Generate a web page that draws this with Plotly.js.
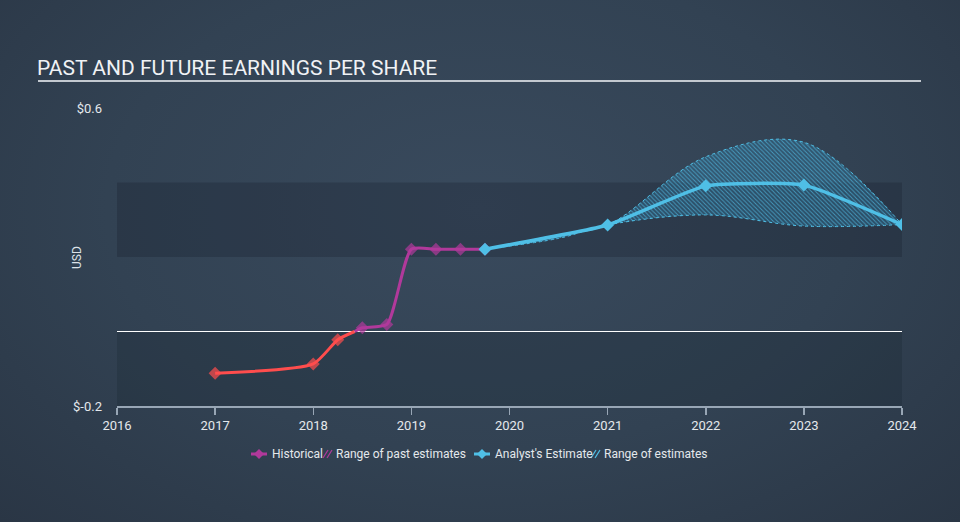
<!DOCTYPE html>
<html>
<head>
<meta charset="utf-8">
<script src="https://cdn.plot.ly/plotly-3.0.1.min.js"></script>
<style>
  html, body { margin: 0; padding: 0; }
  body { width: 960px; height: 522px; overflow: hidden;
         background: radial-gradient(ellipse at 50% 40%, #394a5d 0%, #324253 55%, #2a3645 100%); }
  #chart { width: 960px; height: 522px; }
</style>
</head>
<body>
<div id="chart"></div>
<script>
// ---- data ----
const histNegX = [2017.0, 2018.0, 2018.25];
const histNegY = [-0.112, -0.087, -0.022];
const histPosX = [2018.5, 2018.75, 2019.0, 2019.25, 2019.5, 2019.75];
const histPosY = [0.010, 0.019, 0.221, 0.221, 0.221, 0.221];

const estX = [2019.75, 2021.0, 2022.0, 2023.0, 2024.0];
const estY = [0.221, 0.286, 0.391, 0.393, 0.287];

const rangeX     = [2019.75, 2020.5, 2021.0, 2022.0, 2023.0, 2024.0];
const rangeLow   = [0.221, 0.250, 0.286, 0.313, 0.283, 0.287];
const rangeHigh  = [0.221, 0.260, 0.286, 0.469, 0.508, 0.287];

const xTicks = [2016, 2017, 2018, 2019, 2020, 2021, 2022, 2023, 2024];
const yTickVals = [-0.2, 0.6];
const yTickText = ['$-0.2', '$0.6'];

const legendLabels = ['Historical', 'Range of past estimates', "Analyst's Estimate", 'Range of estimates'];

// ---- colours ----
const RED = '#ff4d4d', PURPLE = '#b1399b', BLUE = '#4fbfe6';

// zero crossing of the historical line, used only to switch colour
const i0 = histNegX.length - 1;
const t = -histNegY[i0] / (histPosY[0] - histNegY[i0]);
const crossX = histNegX[i0] + t * (histPosX[0] - histNegX[i0]);

const redX = histNegX.concat([crossX]);
const redY = histNegY.concat([0]);
const purX = [crossX].concat(histPosX);
const purY = [0].concat(histPosY);

const MS = 10;
const noLine = { width: 0 };
const traces = [
  { x: rangeX, y: rangeLow, type: 'scatter', mode: 'lines', showlegend: false, hoverinfo: 'skip',
    line: { color: BLUE, width: 1, dash: 'dot', shape: 'spline', smoothing: 1 } },
  { x: rangeX, y: rangeHigh, type: 'scatter', mode: 'lines', showlegend: false,
    fill: 'tonexty', fillcolor: 'rgba(60,160,205,0.30)',
    fillpattern: { shape: '\\', fgcolor: 'rgba(80,185,225,0.7)', bgcolor: 'rgba(45,120,160,0.35)', size: 3, solidity: 0.3 },
    line: { color: BLUE, width: 1, dash: 'dot', shape: 'spline', smoothing: 1 } },
  { x: redX, y: redY, type: 'scatter', mode: 'lines+markers', showlegend: false,
    line: { color: RED, width: 3, shape: 'spline', smoothing: 0.6 },
    marker: { symbol: 'diamond', color: RED, line: noLine, size: redX.map((v, i) => i < histNegX.length ? MS : 0) } },
  { x: purX, y: purY, type: 'scatter', mode: 'lines+markers', showlegend: false,
    line: { color: PURPLE, width: 3, shape: 'spline', smoothing: 0.6 },
    marker: { symbol: 'diamond', color: PURPLE, line: noLine, size: purX.map((v, i) => i > 0 ? MS : 0) } },
  { x: estX, y: estY, type: 'scatter', mode: 'lines+markers', showlegend: false,
    line: { color: BLUE, width: 3.5, shape: 'spline', smoothing: 0.45 },
    marker: { symbol: 'diamond', color: BLUE, line: noLine, size: MS } }
];

// pixel -> paper helpers for the custom legend / decorations
const PL = 117, PW = 785, PB = 406, PH = 298;
const px = v => (v - PL) / PW;
const py = v => (PB - v) / PH;

const LY = 454;
function lineIcon(cx, color) {
  return [
    { type: 'line', xref: 'paper', yref: 'paper', x0: px(cx - 8), x1: px(cx + 8), y0: py(LY), y1: py(LY),
      line: { color: color, width: 3 } },
    { type: 'path', xref: 'paper', yref: 'paper', xsizemode: 'pixel', ysizemode: 'pixel',
      xanchor: px(cx), yanchor: py(LY), path: 'M -5 0 L 0 5 L 5 0 L 0 -5 Z',
      fillcolor: color, line: { width: 0 } }
  ];
}
function hatchIcon(cx, color) {
  const s = [];
  [-2.5, 1.5].forEach(o => s.push({ type: 'line', xref: 'paper', yref: 'paper', xsizemode: 'pixel', ysizemode: 'pixel',
    xanchor: px(cx + o), yanchor: py(LY), x0: -2.5, x1: 2.5, y0: -4, y1: 4, line: { color: color, width: 1.2 } }));
  return s;
}
function legendText(x, s) {
  return { text: s, xref: 'paper', yref: 'paper', x: px(x), y: py(LY), xanchor: 'left', yanchor: 'middle',
    showarrow: false, font: { size: 12, color: '#e4e8ec' } };
}

const layout = {
  width: 960, height: 522,
  margin: { l: 117, r: 58, t: 108, b: 116 },
  paper_bgcolor: 'rgba(0,0,0,0)',
  plot_bgcolor: 'rgba(0,0,0,0)',
  font: { family: 'Roboto, "Open Sans", sans-serif', color: '#dde2e8', size: 13 },
  showlegend: false,
  title: {
    text: 'PAST AND FUTURE EARNINGS PER SHARE',
    xref: 'container', yref: 'container',
    x: 37 / 960, xanchor: 'left',
    y: 1 - 68 / 522, yanchor: 'middle',
    font: { family: 'Roboto, sans-serif', size: 21, color: '#f0f2f5' }
  },
  xaxis: {
    range: [2016, 2024], tickvals: xTicks, ticktext: xTicks.map(String),
    showgrid: false, zeroline: false,
    showline: true, linecolor: '#98a6b5', linewidth: 1.5,
    ticks: 'outside', ticklen: 7, tickcolor: '#98a6b5', tickwidth: 1.5,
    tickfont: { size: 13, color: '#e4e8ec' }, fixedrange: true
  },
  yaxis: {
    range: [-0.2, 0.6], tickvals: yTickVals, ticktext: yTickText,
    showgrid: false, showline: false, ticks: '',
    zeroline: true, zerolinecolor: '#ffffff', zerolinewidth: 1,
    ticklabelstandoff: 14,
    tickfont: { size: 13, color: '#e4e8ec' }, fixedrange: true
  },
  shapes: [
    { type: 'rect', xref: 'x', yref: 'y', x0: 2016, x1: 2024, y0: 0.2, y1: 0.4,
      fillcolor: 'rgba(20,30,42,0.28)', line: { width: 0 }, layer: 'below' },
    { type: 'rect', xref: 'x', yref: 'y', x0: 2016, x1: 2024, y0: -0.2, y1: 0,
      fillcolor: 'rgba(20,30,42,0.22)', line: { width: 0 }, layer: 'below' },
    { type: 'line', xref: 'paper', yref: 'paper',
      x0: px(38), x1: px(921), y0: py(81), y1: py(81),
      line: { color: '#c3c9d0', width: 2 } }
  ].concat(lineIcon(259, PURPLE), hatchIcon(328, PURPLE), lineIcon(482, BLUE), hatchIcon(596, BLUE)),
  annotations: [
    { text: 'USD', xref: 'paper', yref: 'paper', x: px(77), y: py(258),
      textangle: -90, showarrow: false, xanchor: 'center', yanchor: 'middle',
      font: { size: 12, color: '#dde2e8' } },
    legendText(270, legendLabels[0]),
    legendText(334, legendLabels[1]),
    legendText(493, legendLabels[2]),
    legendText(602, legendLabels[3])
  ]
};

Plotly.newPlot('chart', traces, layout, { displayModeBar: false, staticPlot: true });
</script>
</body>
</html>
